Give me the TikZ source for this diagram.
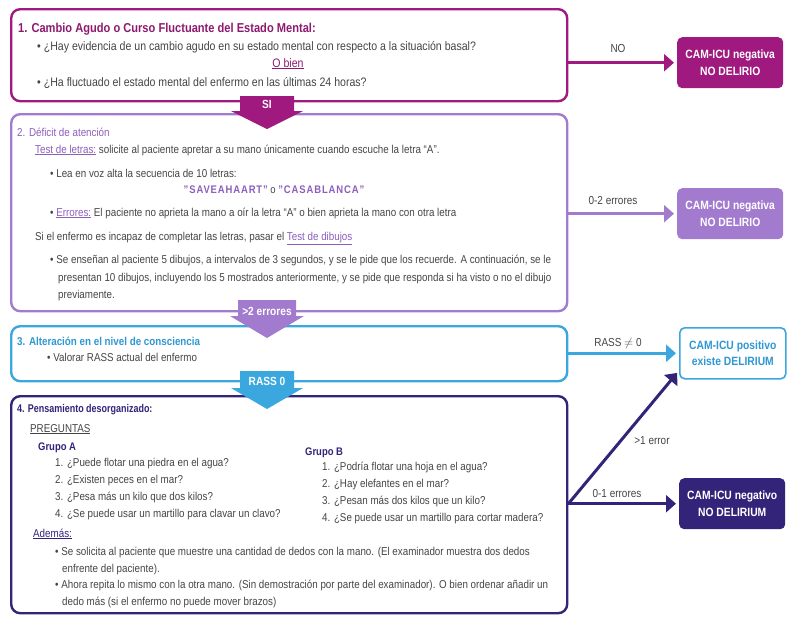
\documentclass[tikz,border=0pt]{standalone}
\usepackage{fontspec}
\setmainfont{Liberation Sans}[FakeStretch=0.86]
\newfontfamily\condbold{Liberation Sans Bold}[FakeStretch=0.8]
\usetikzlibrary{arrows.meta,calc}

\definecolor{mag}{HTML}{A0197E}
\definecolor{magtxt}{HTML}{8E1A70}
\definecolor{lav}{HTML}{A27BCF}
\definecolor{lavtxt}{HTML}{8C5EBD}
\definecolor{sky}{HTML}{3AA7DE}
\definecolor{skytxt}{HTML}{2F98D2}
\definecolor{navy}{HTML}{33247A}
\definecolor{body}{HTML}{454545}

\newcommand{\ul}[1]{\underline{#1}}

\begin{document}
\begin{tikzpicture}[x=1pt,y=-1pt,
  font=\fontsize{11.4}{13}\selectfont,
  txt/.style={anchor=base west, inner sep=0pt, text=body},
  big/.style={txt, font=\fontsize{12.3}{14}\selectfont},
  panel/.style={draw, line width=2.4pt, rounded corners=9pt, fill=white,
                anchor=north west, inner sep=0pt},
  result/.style={rounded corners=5pt, anchor=north west, inner sep=0pt,
                 align=center, font=\fontsize{12}{16.5}\selectfont\bfseries,
                 text=white, minimum width=106pt, minimum height=51pt},
  link/.style={line width=3pt, shorten >=3pt, -{Triangle[width=17pt,length=10pt]}},
  lbl/.style={text=body, inner sep=0pt, anchor=base, font=\fontsize{11.6}{13}\selectfont},
  tag/.style={text=white, inner sep=0pt, font=\fontsize{11.8}{13}\selectfont\bfseries},
]
\useasboundingbox (0,0) rectangle (787,616);

% ---- step panels ----
\node[panel, draw=mag,  minimum width=556pt, minimum height=92pt]  (c1) at (10,8)   {};
\node[panel, draw=lav,  minimum width=556pt, minimum height=197pt] (c2) at (10,113) {};
\node[panel, draw=sky,  minimum width=556pt, minimum height=55pt]  (c3) at (10,325) {};
\node[panel, draw=navy, minimum width=556pt, minimum height=217pt] (c4) at (10,395) {};

% ---- outcome boxes ----
\node[result, fill=mag] (r1) at (677,37)  {CAM-ICU negativa\\NO DELIRIO};
\node[result, fill=lav] (r2) at (677,188) {CAM-ICU negativa\\NO DELIRIO};
\node[result, fill=white, draw=sky, line width=1.6pt, text=skytxt] (r3) at (679,327) {CAM-ICU positivo\\existe DELIRIUM};
\node[result, fill=navy] (r4) at (679,478) {CAM-ICU negativo\\NO DELIRIUM};

% ---- connectors ----
\draw[link, mag]  (r1.west -| c1.east) -- (r1.west);
\draw[link, lav]  (r2.west -| c2.east) -- (r2.west);
\draw[link, sky]  (r3.west -| c3.east) -- (r3.west);
\coordinate (j4) at (r4.west -| c4.east);
\draw[link, navy] (j4) -- (r4.west);
\draw[link, navy] (j4) -- ([yshift=9pt]r3.south west);

\node[lbl] (lno)  at (618,52)  {NO};
\node[lbl] (l02)  at (613,204) {0-2 errores};
\node[lbl] (lra)  at (618,346) {RASS $\neq$ 0};
\node[lbl] (lg1)  at (652,444) {>1 error};
\node[lbl] (l01)  at (617,497) {0-1 errores};

% ---- block arrows between panels ----
\fill[mag]  (240,96)  -- (294,96)  -- (294,111) -- (303,111) -- (267,129) -- (231,111) -- (240,111) -- cycle;
\node[tag] (si) at (267,104) {SI};
\fill[lav]  (238,300) -- (296,300) -- (296,316) -- (304,316) -- (267,338) -- (230,316) -- (238,316) -- cycle;
\node[tag] (e2) at (267,311) {>2 errores};
\fill[sky]  (240,371) -- (294,371) -- (294,388) -- (303,388) -- (267,409) -- (231,388) -- (240,388) -- cycle;
\node[tag] (rz) at (267,381) {RASS 0};

% ---- panel 1 ----
\node[txt, text=magtxt, font=\fontsize{12.9}{14}\selectfont\bfseries] (t11) at (18,32) {1. Cambio Agudo o Curso Fluctuante del Estado Mental:};
\node[big] (t12) at (37,50) {• ¿Hay evidencia de un cambio agudo en su estado mental con respecto a la situación basal?};
\node[big, anchor=base, text=magtxt] (t13) at (288,67) {\ul{O bien}};
\node[big] (t14) at (37,86) {• ¿Ha fluctuado el estado mental del enfermo en las últimas 24 horas?};

% ---- panel 2 ----
\node[txt, text=lavtxt] (t21) at (17,136) {2. Déficit de atención};
\node[txt] (t22) at (35,153) {\textcolor{lavtxt}{\ul{Test de letras:}} solicite al paciente apretar a su mano únicamente cuando escuche la letra “A”.};
\node[txt] (t23) at (50,177) {• Lea en voz alta la secuencia de 10 letras:};
\node[txt, anchor=base, font=\fontsize{11}{13}\selectfont] (t24) at (274,193) {\textcolor{lavtxt}{\bfseries\addfontfeatures{LetterSpace=8}"SAVEAHAART"} o \textcolor{lavtxt}{\bfseries\addfontfeatures{LetterSpace=8}"CASABLANCA"}};
\node[txt] (t25) at (50,216) {• \textcolor{lavtxt}{\ul{Errores:}} El paciente no aprieta la mano a oír la letra “A” o bien aprieta la mano con otra letra};
\node[txt] (t26) at (35,240) {Si el enfermo es incapaz de completar las letras, pasar el \textcolor{lavtxt}{\ul{Test de dibujos}}};
\node[txt] (t27) at (50,263) {• Se enseñan al paciente 5 dibujos, a intervalos de 3 segundos, y se le pide que los recuerde. A continuación, se le};
\node[txt] (t28) at (58,281) {presentan 10 dibujos, incluyendo los 5 mostrados anteriormente, y se pide que responda si ha visto o no el dibujo};
\node[txt] (t29) at (58,298) {previamente.};

% ---- panel 3 ----
\node[txt, text=skytxt, font=\fontsize{11.4}{13}\selectfont\bfseries] (t31) at (17,345) {3. Alteración en el nivel de consciencia};
\node[txt] (t32) at (47,361) {• Valorar RASS actual del enfermo};

% ---- panel 4 ----
\node[txt, text=navy, font=\fontsize{11.2}{13}\condbold] (t41) at (17,412) {4. Pensamiento desorganizado:};
\node[txt] (t42) at (30,432) {\ul{PREGUNTAS}};
\node[txt, text=navy, font=\fontsize{11}{13}\selectfont\bfseries] (ga) at (38,450) {Grupo A};
\node[txt] (a1) at (55,466) {1. ¿Puede flotar una piedra en el agua?};
\node[txt] (a2) at (55,483) {2. ¿Existen peces en el mar?};
\node[txt] (a3) at (55,500) {3. ¿Pesa más un kilo que dos kilos?};
\node[txt] (a4) at (55,517) {4. ¿Se puede usar un martillo para clavar un clavo?};
\node[txt, text=navy, font=\fontsize{11}{13}\selectfont\bfseries] (gb) at (305,455) {Grupo B};
\node[txt] (b1) at (322,470) {1. ¿Podría flotar una hoja en el agua?};
\node[txt] (b2) at (322,487) {2. ¿Hay elefantes en el mar?};
\node[txt] (b3) at (322,504) {3. ¿Pesan más dos kilos que un kilo?};
\node[txt] (b4) at (322,521) {4. ¿Se puede usar un martillo para cortar madera?};
\node[txt, text=navy] (t43) at (33,537) {\ul{Además:}};
\node[txt] (t44) at (55,555) {• Se solicita al paciente que muestre una cantidad de dedos con la mano. (El examinador muestra dos dedos};
\node[txt] (t45) at (62,572) {enfrente del paciente).};
\node[txt] (t46) at (55,588) {• Ahora repita lo mismo con la otra mano. (Sin demostración por parte del examinador). O bien ordenar añadir un};
\node[txt] (t47) at (62,605) {dedo más (si el enfermo no puede mover brazos)};
\end{tikzpicture}
\end{document}
